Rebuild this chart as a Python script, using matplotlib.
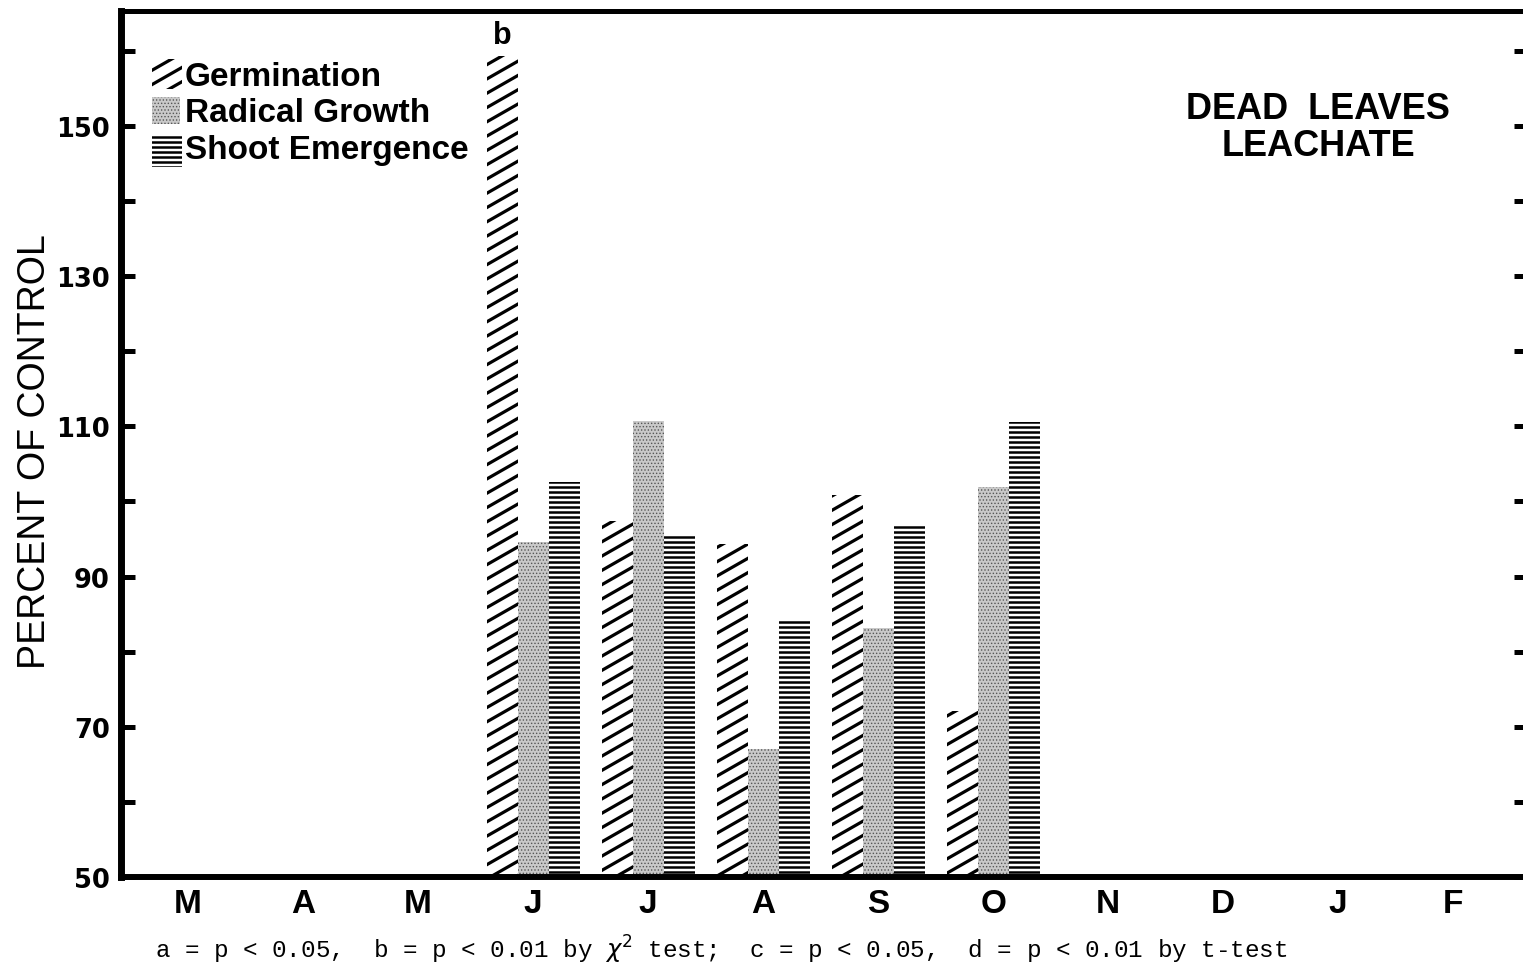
import numpy as np
import matplotlib
matplotlib.use('Agg')
import matplotlib.pyplot as plt
import matplotlib.hatch as mhatch
from matplotlib.path import Path
from matplotlib.patches import Rectangle

# ---------------- data ----------------
months = ['M', 'A', 'M', 'J', 'J', 'A', 'S', 'O', 'N', 'D', 'J', 'F']
bar_months = [3, 4, 5, 6, 7]          # J J A S O
germination = [159.3, 97.4, 94.3, 100.9, 72.1]
radical = [94.6, 110.7, 67.0, 83.2, 101.9]
shoot = [102.6, 95.4, 84.1, 96.7, 110.6]
yticks = list(range(50, 161, 10))
ytick_labels = ['50', '', '70', '', '90', '', '110', '', '130', '', '150', '']
series_names = ['Germination', 'Radical Growth', 'Shoot Emergence']
footnote = r"a = p < 0.05,  b = p < 0.01 by $\chi^2$ test;  c = p < 0.05,  d = p < 0.01 by t-test"

# ---------------- custom hatches ----------------
class SlantHatch(mhatch.HatchPatternBase):
    P, Q = 4, 7  # slope P/Q

    def __init__(self, hatch, density):
        n = hatch.count('/')
        self.ks = list(range(-self.P - 2, self.Q + 2)) if n else []
        self.num_vertices = 2 * len(self.ks)

    def set_vertices_and_codes(self, vertices, codes):
        m = self.P / self.Q
        c = np.array(self.ks, dtype=float) / self.Q
        x0, x1 = -0.2, 1.2
        vertices[0::2, 0] = x0
        vertices[0::2, 1] = c + m * x0
        vertices[1::2, 0] = x1
        vertices[1::2, 1] = c + m * x1
        codes[0::2] = Path.MOVETO
        codes[1::2] = Path.LINETO


class DenseHorizontal(mhatch.HatchPatternBase):
    def __init__(self, hatch, density):
        self.num_lines = 20 if '-' in hatch else 0
        self.num_vertices = self.num_lines * 2

    def set_vertices_and_codes(self, vertices, codes):
        steps = (np.arange(self.num_lines) + 0.5) / self.num_lines
        vertices[0::2, 0] = -0.1
        vertices[0::2, 1] = steps
        vertices[1::2, 0] = 1.1
        vertices[1::2, 1] = steps
        codes[0::2] = Path.MOVETO
        codes[1::2] = Path.LINETO


_new = []
for t in mhatch._hatch_types:
    if t is mhatch.NorthEastHatch:
        _new.append(SlantHatch)
    elif t is mhatch.HorizontalHatch:
        _new.append(DenseHorizontal)
    else:
        _new.append(t)
mhatch._hatch_types = _new

plt.rcParams['hatch.linewidth'] = 2.0

RAD_FACE = '#c9c9c9'
RAD_DOT = '#555555'

# ---------------- figure ----------------
W, H = 1523, 970
fig = plt.figure(figsize=(W / 100, H / 100), dpi=100)
fig.patch.set_facecolor('white')
ax = fig.add_axes([121 / W, 92 / H, (1528 - 121) / W, 866 / H])
ax.set_xlim(-0.583, 11.65)
ax.set_ylim(50, 165.3)

x = np.array(bar_months, dtype=float)
bw = 0.27
b1 = ax.bar(x - bw, np.array(germination) - 50, bottom=50, width=bw,
            facecolor='white', edgecolor='black', linewidth=0, hatch='/')
b2 = ax.bar(x, np.array(radical) - 50, bottom=50, width=bw,
            facecolor=RAD_FACE, edgecolor=RAD_DOT, linewidth=0, hatch='.....')
b3 = ax.bar(x + bw, np.array(shoot) - 50, bottom=50, width=bw,
            facecolor='white', edgecolor='black', linewidth=0, hatch='-')
for p in b1:
    if hasattr(p, 'set_hatch_linewidth'):
        p.set_hatch_linewidth(2.3)
for p in b2:
    if hasattr(p, 'set_hatch_linewidth'):
        p.set_hatch_linewidth(0.6)
for p in b3:
    if hasattr(p, 'set_hatch_linewidth'):
        p.set_hatch_linewidth(1.8)

# significance letter
ax.text(x[0] - bw, germination[0] + 0.8, 'b', ha='center', va='bottom',
        family='Liberation Sans', fontweight='bold', fontsize=22)

# spines
ax.spines['left'].set_linewidth(5)
ax.spines['bottom'].set_linewidth(4.3)
ax.spines['top'].set_linewidth(3.6)
ax.spines['right'].set_linewidth(3.6)

ax.set_yticks(yticks)
ax.set_yticklabels(ytick_labels, family='DejaVu Sans', fontweight='bold', fontsize=18.5)
ax.tick_params(axis='y', direction='in', length=10, width=3.6,
               left=True, right=True, pad=8)
ax.set_xticks(range(len(months)))
ax.set_xticklabels(months, family='Liberation Sans', fontweight='bold', fontsize=24)
ax.tick_params(axis='x', length=0, pad=8)

# legend (manual)
def fx(px):
    return (px - 121) / 1407

def fy(py):
    return (878 - py) / 866

handles = [
    dict(x=152, y0=90, w=30, h=30, fc='white', ec='black', hatch='/', hl=2.3),
    dict(x=152, y0=125, w=28, h=27, fc=RAD_FACE, ec=RAD_DOT, hatch='.....', hl=0.6),
    dict(x=152, y0=168, w=30, h=31, fc='white', ec='black', hatch='-', hl=1.8),
]
text_y = [77, 113, 151]
for hd, name, ty in zip(handles, series_names, text_y):
    r = Rectangle((fx(hd['x']), fy(hd['y0'])), hd['w'] / 1407, hd['h'] / 866,
                  transform=ax.transAxes, facecolor=hd['fc'], edgecolor=hd['ec'],
                  linewidth=0, hatch=hd['hatch'])
    if hasattr(r, 'set_hatch_linewidth'):
        r.set_hatch_linewidth(hd['hl'])
    ax.add_patch(r)
    ax.text(fx(185), fy(ty), name, transform=ax.transAxes, ha='left', va='center',
            family='Liberation Sans', fontweight='bold', fontsize=24)

ax.text(fx(1318), fy(128), 'DEAD  LEAVES\nLEACHATE', transform=ax.transAxes,
        ha='center', va='center', multialignment='center', linespacing=1.1,
        family='Liberation Sans', fontweight='bold', fontsize=26)

fig.text(35 / W, 1 - 452 / H, 'PERCENT OF CONTROL', rotation=90,
         ha='center', va='center', family='Liberation Sans', fontsize=27)

fig.text(155 / W, 1 - 950 / H, footnote, ha='left', va='center',
         family='Liberation Mono', fontsize=17.5)

fig.savefig('out.png', dpi=100)
